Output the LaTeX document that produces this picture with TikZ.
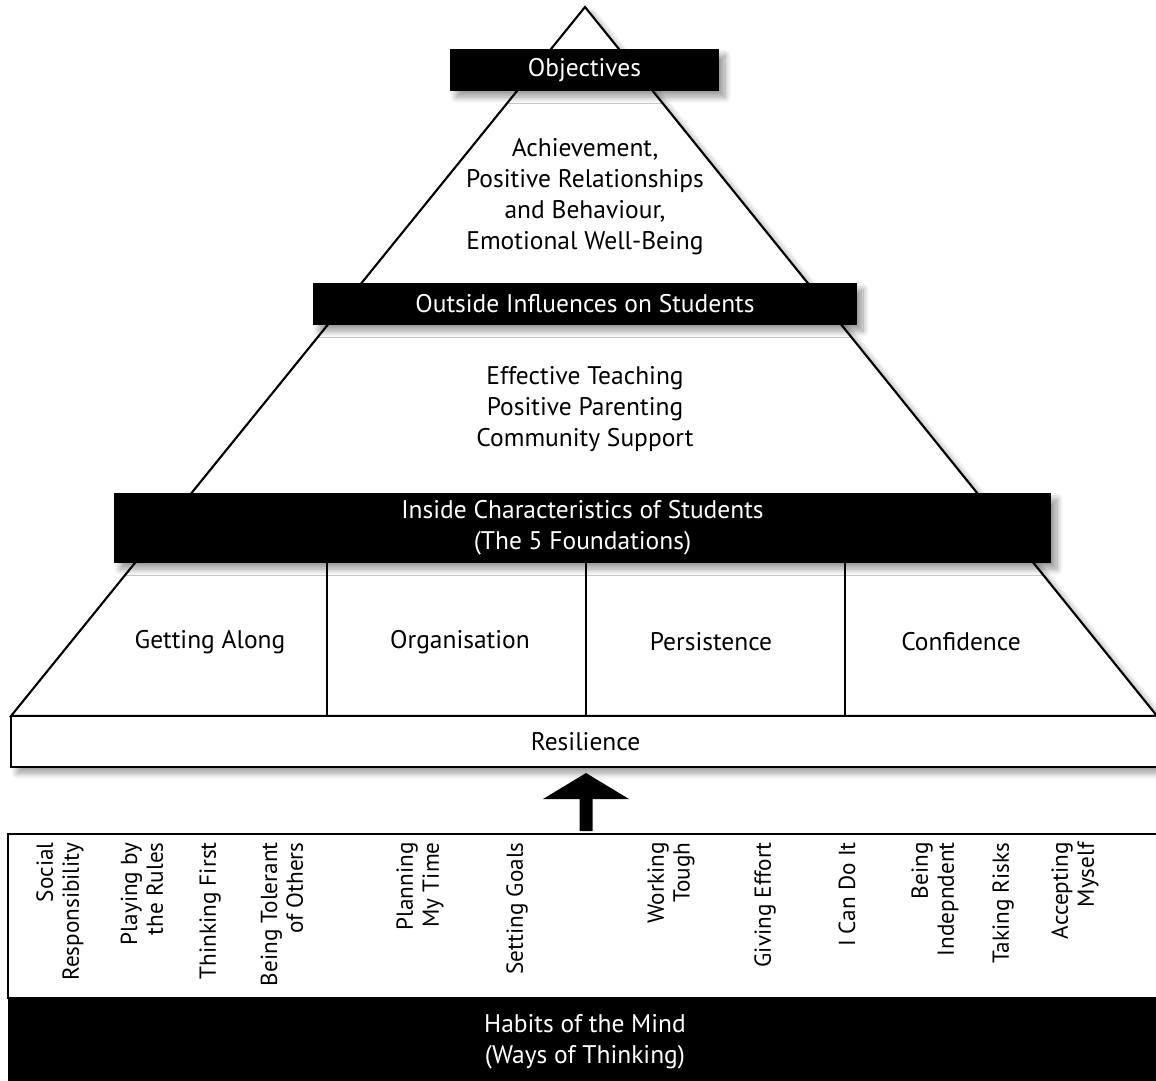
\documentclass[tikz,border=0pt]{standalone}
\usepackage{fontspec}
\setmainfont{PT Sans}
\usetikzlibrary{shadows.blur}

\begin{document}
\begin{tikzpicture}[x=0.02cm, y=-0.02cm, font=\fontsize{14.5}{17.6}\selectfont,
      sh/.style={blur shadow={shadow xshift=3.5pt, shadow yshift=-3.5pt,
                 shadow blur radius=3.5pt, shadow blur steps=12}},
      bar/.style={fill=black, text=white, inner sep=0pt, align=center, sh},
      box/.style={draw, fill=white, line width=1.1pt, inner sep=0pt, align=center},
      hab/.style={rotate=90, anchor=east, align=right, inner sep=0pt,
                  font=\fontsize{13.2}{14.7}\selectfont}]
    \useasboundingbox (0,0) rectangle (1156,1080);

    % pyramid outline
    \coordinate (apex) at (585,7);
    \coordinate (bl) at (11,716);
    \coordinate (br) at (1157,716);
    \draw[line width=1.2pt, fill=white, sh] (apex) -- (br) -- (bl) -- cycle;

    % black headings across the pyramid
    \node[bar, minimum width=5.38cm, minimum height=0.84cm] (obj) at (584.5,70) {Objectives};
    \node[align=center] (goals) at (585,197) {Achievement,\\Positive Relationships\\and Behaviour,\\Emotional Well-Being};
    \node[bar, minimum width=10.88cm, minimum height=0.84cm] (out) at (585,304) {Outside Influences on Students};
    \node[align=center] (infl) at (585,409) {Effective Teaching\\Positive Parenting\\Community Support};
    \node[bar, minimum width=18.74cm, minimum height=1.4cm] (ins) at (582.5,528) {Inside Characteristics of Students\\(The 5 Foundations)};

    % the 5 foundations
    \draw[line width=1.6pt] (327,563) -- (327,716);
    \draw[line width=1.6pt] (586,563) -- (586,716);
    \draw[line width=1.6pt] (845,563) -- (845,716);
    \node (ga) at (210,642) {Getting Along};
    \node (org) at (460,642) {Organisation};
    \node (per) at (711,642) {Persistence};
    \node (con) at (961,642) {Confidence};
    \node[box, minimum width=22.98cm, minimum height=1.02cm, sh] (res) at (585.5,741.5) {Resilience};

    % habits of the mind
    \node[box, minimum width=23.08cm, minimum height=3.28cm] (habbox) at (585,916) {};
    \node[bar, minimum width=23.08cm, minimum height=1.74cm] (mind) at (585,1041.5) {Habits of the Mind\\(Ways of Thinking)};
    \node[hab] (h1) at (60,842) {Social\\Responsibility};
    \node[hab] (h2) at (142,842) {Playing by\\the Rules};
    \node[hab] (h3) at (210,842) {Thinking First};
    \node[hab] (h4) at (282,842) {Being Tolerant\\of Others};
    \node[hab] (h5) at (420,842) {Planning\\My Time};
    \node[hab] (h6) at (517,842) {Setting Goals};
    \node[hab] (h7) at (671,842) {Working\\Tough};
    \node[hab] (h8) at (765,842) {Giving Effort};
    \node[hab] (h9) at (847,842) {I Can Do It};
    \node[hab] (h10) at (935,842) {Being\\Indepndent};
    \node[hab] (h11) at (1003,842) {Taking Risks};
    \node[hab] (h12) at (1075,842) {Accepting\\Myself};

    % block arrow up into resilience
    \coordinate (tip) at (586,773);
    \fill (tip) -- ++(43,26) -- ++(-36.5,0) -- ++(0,32) -- ++(-13,0) -- ++(0,-32) -- ++(-36.5,0) -- cycle;
  \end{tikzpicture}
\end{document}
